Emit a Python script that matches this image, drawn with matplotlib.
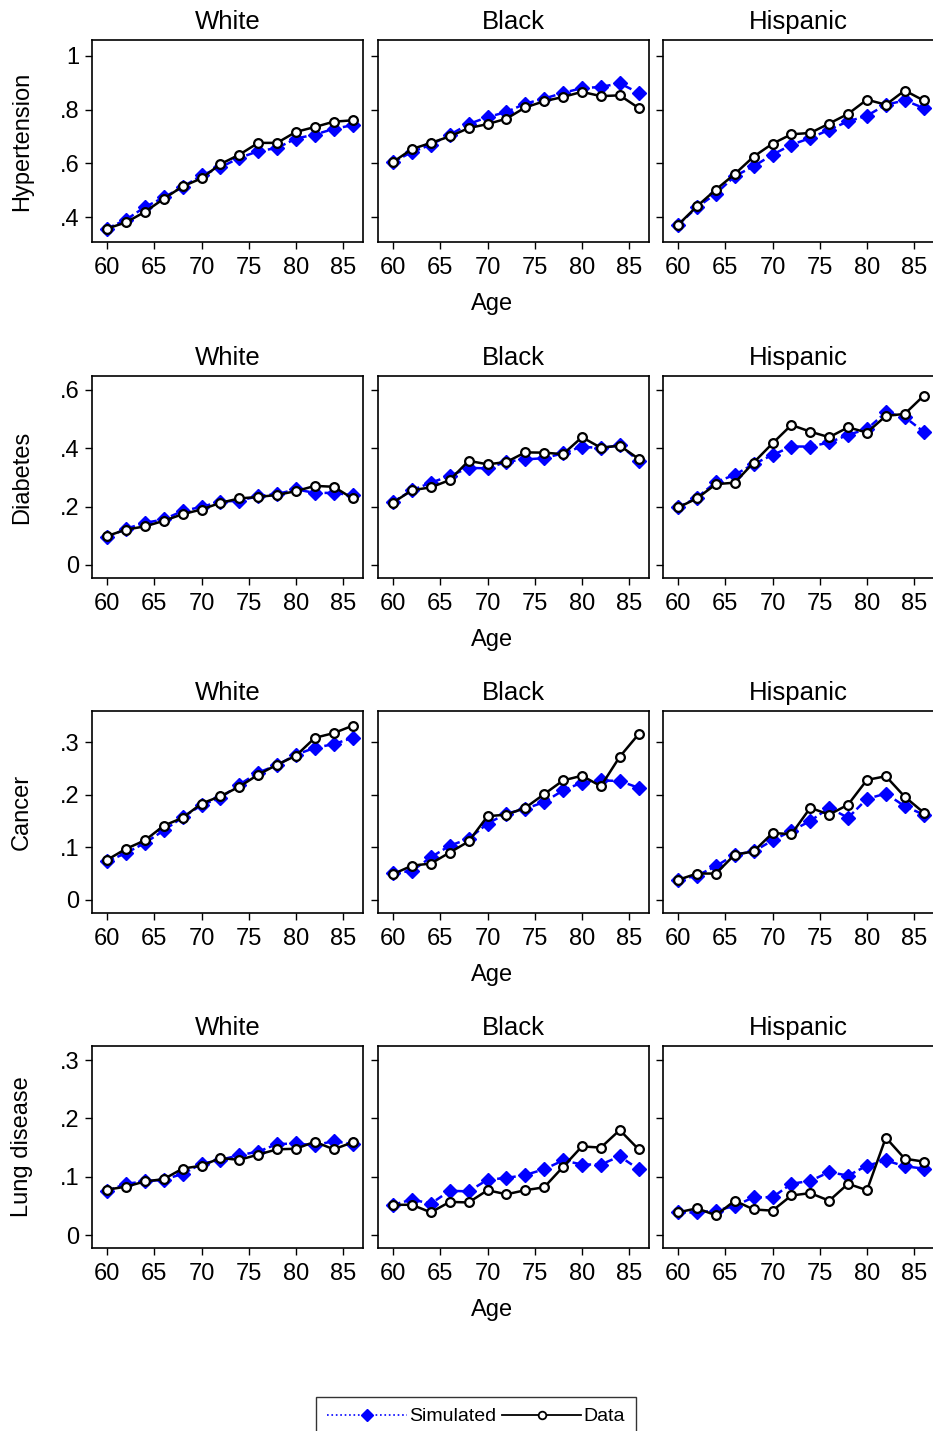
import matplotlib
matplotlib.use('Agg')
import matplotlib.pyplot as plt
from matplotlib.lines import Line2D

plt.rcParams['font.family'] = ['Liberation Sans', 'DejaVu Sans']

age = [60, 62, 64, 66, 68, 70, 72, 74, 76, 78, 80, 82, 84, 86]
groups = ['White', 'Black', 'Hispanic']
diseases = ['Hypertension', 'Diabetes', 'Cancer', 'Lung disease']

# simulated vs data, by race
hyp_sim_white = [0.357, 0.39, 0.437, 0.473, 0.512, 0.555, 0.585, 0.62, 0.645, 0.657, 0.692, 0.707, 0.728, 0.742]
hyp_dat_white = [0.357, 0.380, 0.419, 0.468, 0.514, 0.544, 0.597, 0.632, 0.676, 0.676, 0.717, 0.735, 0.755, 0.760]
hyp_sim_black = [0.605, 0.642, 0.669, 0.706, 0.746, 0.772, 0.791, 0.822, 0.841, 0.862, 0.88, 0.884, 0.898, 0.862]
hyp_dat_black = [0.605, 0.653, 0.676, 0.70, 0.731, 0.746, 0.766, 0.808, 0.831, 0.847, 0.866, 0.85, 0.853, 0.806]
hyp_sim_hisp = [0.371, 0.436, 0.487, 0.552, 0.589, 0.632, 0.669, 0.694, 0.725, 0.756, 0.777, 0.818, 0.834, 0.806]
hyp_dat_hisp = [0.371, 0.44, 0.502, 0.56, 0.625, 0.673, 0.708, 0.713, 0.748, 0.784, 0.837, 0.818, 0.871, 0.834]

dia_sim_white = [0.095, 0.124, 0.144, 0.156, 0.185, 0.199, 0.217, 0.22, 0.236, 0.243, 0.259, 0.247, 0.247, 0.239]
dia_dat_white = [0.099, 0.121, 0.132, 0.151, 0.174, 0.19, 0.213, 0.228, 0.233, 0.24, 0.253, 0.271, 0.268, 0.228]
dia_sim_black = [0.216, 0.256, 0.282, 0.305, 0.333, 0.331, 0.354, 0.362, 0.366, 0.383, 0.406, 0.40, 0.411, 0.357]
dia_dat_black = [0.214, 0.256, 0.266, 0.291, 0.357, 0.345, 0.353, 0.386, 0.385, 0.38, 0.438, 0.402, 0.409, 0.364]
dia_sim_hisp = [0.197, 0.231, 0.284, 0.309, 0.346, 0.377, 0.406, 0.406, 0.42, 0.446, 0.466, 0.523, 0.507, 0.457]
dia_dat_hisp = [0.197, 0.228, 0.277, 0.282, 0.351, 0.417, 0.48, 0.457, 0.438, 0.472, 0.454, 0.511, 0.518, 0.58]

can_sim_white = [0.073, 0.089, 0.108, 0.132, 0.157, 0.18, 0.194, 0.219, 0.242, 0.256, 0.276, 0.289, 0.296, 0.308]
can_dat_white = [0.076, 0.097, 0.113, 0.141, 0.156, 0.183, 0.197, 0.215, 0.238, 0.257, 0.274, 0.308, 0.317, 0.331]
can_sim_black = [0.051, 0.055, 0.081, 0.103, 0.116, 0.145, 0.164, 0.173, 0.186, 0.208, 0.223, 0.227, 0.226, 0.213]
can_dat_black = [0.049, 0.065, 0.069, 0.09, 0.111, 0.159, 0.162, 0.175, 0.201, 0.227, 0.236, 0.216, 0.272, 0.315]
can_sim_hisp = [0.038, 0.046, 0.064, 0.086, 0.092, 0.113, 0.131, 0.15, 0.175, 0.156, 0.192, 0.202, 0.178, 0.162]
can_dat_hisp = [0.038, 0.05, 0.05, 0.086, 0.092, 0.127, 0.125, 0.175, 0.162, 0.181, 0.228, 0.235, 0.196, 0.166]

lun_sim_white = [0.076, 0.088, 0.092, 0.095, 0.105, 0.122, 0.129, 0.137, 0.143, 0.156, 0.157, 0.154, 0.161, 0.156]
lun_dat_white = [0.078, 0.083, 0.092, 0.096, 0.114, 0.119, 0.132, 0.129, 0.138, 0.147, 0.148, 0.16, 0.147, 0.159]
lun_sim_black = [0.052, 0.061, 0.054, 0.076, 0.075, 0.095, 0.098, 0.103, 0.113, 0.128, 0.121, 0.121, 0.135, 0.113]
lun_dat_black = [0.052, 0.052, 0.039, 0.057, 0.056, 0.077, 0.07, 0.077, 0.082, 0.117, 0.152, 0.15, 0.18, 0.147]
lun_sim_hisp = [0.039, 0.039, 0.042, 0.05, 0.065, 0.065, 0.088, 0.093, 0.108, 0.102, 0.119, 0.128, 0.118, 0.114]
lun_dat_hisp = [0.039, 0.046, 0.034, 0.059, 0.044, 0.042, 0.068, 0.072, 0.059, 0.088, 0.077, 0.167, 0.131, 0.126]

sim = [[hyp_sim_white, hyp_sim_black, hyp_sim_hisp],
       [dia_sim_white, dia_sim_black, dia_sim_hisp],
       [can_sim_white, can_sim_black, can_sim_hisp],
       [lun_sim_white, lun_sim_black, lun_sim_hisp]]
dat = [[hyp_dat_white, hyp_dat_black, hyp_dat_hisp],
       [dia_dat_white, dia_dat_black, dia_dat_hisp],
       [can_dat_white, can_dat_black, can_dat_hisp],
       [lun_dat_white, lun_dat_black, lun_dat_hisp]]

yticks = [[0.4, 0.6, 0.8, 1.0], [0, 0.2, 0.4, 0.6], [0, 0.1, 0.2, 0.3], [0, 0.1, 0.2, 0.3]]
ytlabels = [['.4', '.6', '.8', '1'], ['0', '.2', '.4', '.6'], ['0', '.1', '.2', '.3'], ['0', '.1', '.2', '.3']]
ylims = [(0.307, 1.059), (-0.045, 0.648), (-0.025, 0.359), (-0.022, 0.324)]
xticks = [60, 65, 70, 75, 80, 85]

W, H = 933, 1431
fig = plt.figure(figsize=(W / 100, H / 100), dpi=100)

lefts = [92, 378, 663]
pw = 271
tops = [40, 376, 711, 1046]
ph = 202

for r in range(4):
    for c in range(3):
        ax = fig.add_axes([lefts[c] / W, 1 - (tops[r] + ph) / H, pw / W, ph / H])
        ax.plot(age, sim[r][c], color='#0000ff', ls=(0, (3, 1.5)), lw=1.8,
                marker='D', ms=7.5, mfc='#0000ff', mec='#0000ff')
        ax.plot(age, dat[r][c], color='black', lw=1.8,
                marker='o', ms=6.3, mfc='white', mec='black', mew=1.6)
        ax.set_xlim(58.4, 87.1)
        ax.set_ylim(*ylims[r])
        ax.set_xticks(xticks)
        ax.set_yticks(yticks[r])
        if c == 0:
            ax.set_yticklabels(ytlabels[r])
        else:
            ax.set_yticklabels([])
            ax.tick_params(axis='y', length=0)
        ax.tick_params(direction='out', length=5, width=1, labelsize=17, pad=4)
        ax.tick_params(axis='x', pad=6)
        for s in ax.spines.values():
            s.set_linewidth(1.2)
        ax.set_title(groups[c], fontsize=18.5, pad=8)
        if c == 0:
            fig.text(22 / W, 1 - (tops[r] + ph / 2) / H, diseases[r], rotation=90,
                     ha='center', va='center', fontsize=17)
    fig.text(492 / W, 1 - (tops[r] + 264) / H, 'Age', ha='center', va='center', fontsize=17)

h_sim = Line2D([], [], color='#0000ff', ls=':', lw=1.2, marker='D', ms=6.5, mfc='#0000ff', mec='#0000ff')
h_dat = Line2D([], [], color='black', lw=1.3, marker='o', ms=5.5, mfc='white', mec='black', mew=1.3)
leg = fig.legend([h_sim, h_dat], ['Simulated', 'Data'], loc='upper center',
                 bbox_to_anchor=(476 / W, 1 - 1397 / H), ncol=2, frameon=True, fancybox=False,
                 edgecolor='black', fontsize=14, handlelength=4.1, handletextpad=0.1,
                 columnspacing=0.3, borderpad=0.55, borderaxespad=0)
leg.get_frame().set_linewidth(1.0)

fig.savefig('out.png', dpi=100)
